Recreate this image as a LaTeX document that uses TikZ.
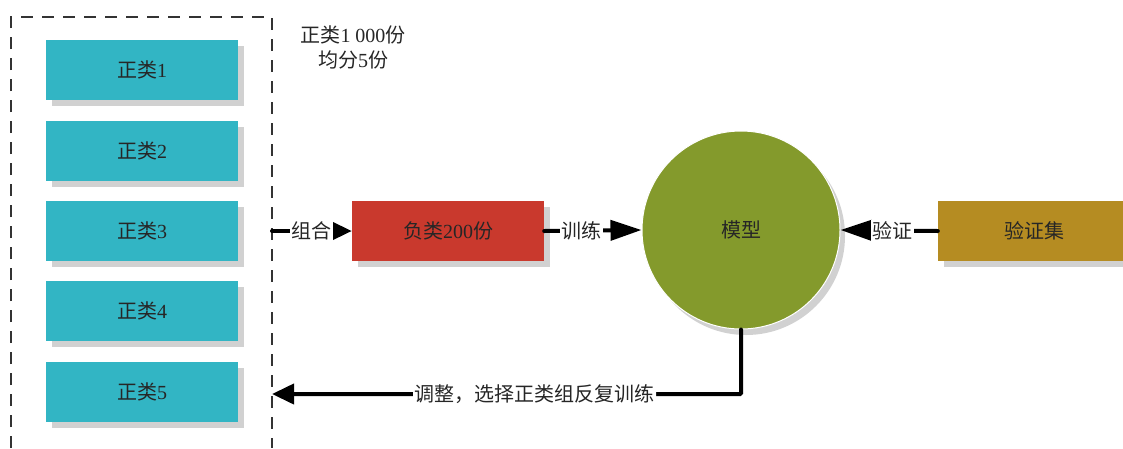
\documentclass[tikz,border=0pt]{standalone}
\usepackage{fontspec}
\setmainfont{Liberation Serif}
\newfontfamily\cjk{Noto Sans CJK SC}
\usetikzlibrary{arrows.meta,shadows}
\definecolor{cblue}{RGB}{50,181,196}
\definecolor{cred}{RGB}{201,57,45}
\definecolor{cgreen}{RGB}{132,154,44}
\definecolor{cgold}{RGB}{181,140,34}
\tikzset{
  box/.style={rectangle, minimum width=192pt, minimum height=60pt, inner sep=0pt,
    text=black!85, font=\fontsize{20}{23}\selectfont,
    drop shadow={shadow xshift=6pt, shadow yshift=-6pt, fill=black!18, opacity=1}},
  conn/.style={line width=4pt, line cap=round, draw=black,
    -{Triangle[length=22pt,width=20pt,line cap=butt,line join=miter]}},
  longtip/.style={-{Triangle[length=31pt,width=20pt,line cap=butt,line join=miter]}},
  lbl/.style={fill=white, inner sep=1.5pt, text=black!85, font=\fontsize{20}{23}\selectfont},
  frame/.style={draw=black!80, line width=1.5pt, dash pattern=on 12pt off 9pt}
}
\begin{document}
\begin{tikzpicture}[x=1pt,y=-1pt]
\useasboundingbox (0,0) rectangle (1123,448);
\fill[white] (0,0) rectangle (1123,448);
\clip (0,0) rectangle (1123,448);
% dashed frame
\draw[frame] (11,448) -- (11,17) -- (272,17) -- (272,448);
\coordinate (dr) at (272,231);
\coordinate (fb) at (272,394);
% positive boxes
\node[box, fill=cblue] (p1) at (142,70) {{\cjk 正类}1};
\node[box, fill=cblue] (p2) at (142,151) {{\cjk 正类}2};
\node[box, fill=cblue] (p3) at (142,231) {{\cjk 正类}3};
\node[box, fill=cblue] (p4) at (142,311) {{\cjk 正类}4};
\node[box, fill=cblue] (p5) at (142,392) {{\cjk 正类}5};
\node[align=center, text=black!85, font=\fontsize{20}{25}\selectfont] (note) at (353,47)
  {{\cjk 正类}1 000{\cjk 份}\\{\cjk 均分}5{\cjk 份}};
% negative
\node[box, fill=cred] (neg) at (448,231) {{\cjk 负类}200{\cjk 份}};
% model
\node[circle, fill=cgreen, draw=white, line width=1pt, minimum size=198pt, inner sep=0pt,
  text=black!85, font=\fontsize{20}{23}\selectfont,
  drop shadow={shadow xshift=5pt, shadow yshift=-6pt, fill=black!18, opacity=1}] (model) at (741,230) {\cjk 模型};
% validation
\node[box, fill=cgold] (val) at (1034,231) {\cjk 验证集};
% connectors
\draw[conn] (dr) -- node[lbl, pos=0.49]{\cjk 组合} (neg.west);
\draw[conn, longtip] (neg.east) -- node[lbl, pos=0.38]{\cjk 训练} (model.west);
\draw[conn, longtip] (val.west) -- node[lbl, pos=0.47]{\cjk 验证} (model.east);
\draw[conn, rounded corners=1pt] (model.south) |- node[lbl, pos=0.72]{\cjk 调整，选择正类组反复训练} (fb);
\end{tikzpicture}
\end{document}
